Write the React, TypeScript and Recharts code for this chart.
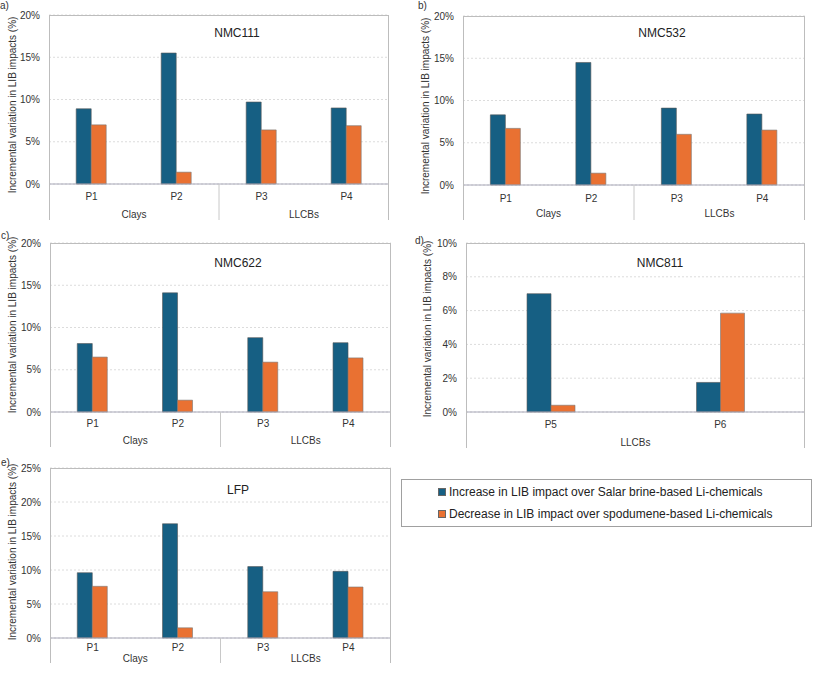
import React from 'react';
import { BarChart, Bar, XAxis, YAxis, CartesianGrid, Legend } from 'recharts';

const FONT = '"Liberation Sans", Arial, sans-serif';
const BLUE = '#165f83';
const ORANGE = '#e97132';

const incName = 'Increase in LIB impact over Salar brine-based Li-chemicals';
const decName = 'Decrease in LIB impact over spodumene-based Li-chemicals';
const seriesOrder = ['inc', 'dec'];

const cats4 = ['P1', 'P2', 'P3', 'P4'];
const groups4 = ['Clays', 'Clays', 'LLCBs', 'LLCBs'];
const cats2 = ['P5', 'P6'];
const groups2 = ['LLCBs', 'LLCBs'];

const ticks20 = [0, 5, 10, 15, 20];
const ticks10 = [0, 2, 4, 6, 8, 10];
const ticks25 = [0, 5, 10, 15, 20, 25];

const nmc111Inc = [8.9, 15.5, 9.7, 9.0];
const nmc111Dec = [7.0, 1.4, 6.4, 6.9];
const nmc532Inc = [8.3, 14.5, 9.1, 8.4];
const nmc532Dec = [6.7, 1.4, 6.0, 6.5];
const nmc622Inc = [8.1, 14.1, 8.8, 8.2];
const nmc622Dec = [6.5, 1.4, 5.9, 6.4];
const nmc811Inc = [7.0, 1.75];
const nmc811Dec = [0.4, 5.85];
const lfpInc = [9.6, 16.8, 10.5, 9.8];
const lfpDec = [7.6, 1.5, 6.8, 7.5];

interface PanelCfg {
  letter: string;
  title: string;
  cats: string[];
  groups: string[];
  inc: number[];
  dec: number[];
  ticks: number[];
  left: number;
  top: number;
  width: number;
  plotLeft: number;
  plotRight: number;
  plotTop: number;
  zeroY: number;
  bottom: number;
  labelDy: number;
  groupDy: number;
  yLabelX: number;
  yLabelY: number;
  titleX: number;
  titleY: number;
  letterX: number;
  letterY: number;
  gap: string;
  legend?: boolean;
}

const panels: PanelCfg[] = [
  {
    letter: 'a)', title: 'NMC111', cats: cats4, groups: groups4, inc: nmc111Inc, dec: nmc111Dec, ticks: ticks20,
    left: 0, top: 0, width: 400, plotLeft: 49, plotRight: 389, plotTop: 15, zeroY: 184, bottom: 220,
    labelDy: 12, groupDy: 30, yLabelX: 12, yLabelY: 105, titleX: 237, titleY: 33, letterX: 0, letterY: 5, gap: '32%',
  },
  {
    letter: 'b)', title: 'NMC532', cats: cats4, groups: groups4, inc: nmc532Inc, dec: nmc532Dec, ticks: ticks20,
    left: 400, top: 0, width: 413, plotLeft: 63, plotRight: 405, plotTop: 16, zeroY: 185, bottom: 220,
    labelDy: 13, groupDy: 28, yLabelX: 25, yLabelY: 106, titleX: 262, titleY: 33, letterX: 18, letterY: 5, gap: '32%',
  },
  {
    letter: 'c)', title: 'NMC622', cats: cats4, groups: groups4, inc: nmc622Inc, dec: nmc622Dec, ticks: ticks20,
    left: 0, top: 220, width: 400, plotLeft: 50, plotRight: 391, plotTop: 23, zeroY: 192, bottom: 227,
    labelDy: 11, groupDy: 28, yLabelX: 12, yLabelY: 105, titleX: 238, titleY: 43, letterX: 1, letterY: 15, gap: '32%',
  },
  {
    letter: 'd)', title: 'NMC811', cats: cats2, groups: groups2, inc: nmc811Inc, dec: nmc811Dec, ticks: ticks10,
    left: 400, top: 220, width: 413, plotLeft: 66, plotRight: 405, plotTop: 23, zeroY: 192, bottom: 228,
    labelDy: 12, groupDy: 30, yLabelX: 27, yLabelY: 109, titleX: 260, titleY: 43, letterX: 15, letterY: 20, gap: '36%',
  },
  {
    letter: 'e)', title: 'LFP', cats: cats4, groups: groups4, inc: lfpInc, dec: lfpDec, ticks: ticks25,
    left: 0, top: 440, width: 813, plotLeft: 50, plotRight: 391, plotTop: 28, zeroY: 198, bottom: 223,
    labelDy: 9, groupDy: 20, yLabelX: 12, yLabelY: 112, titleX: 238, titleY: 50, letterX: 1, letterY: 22, gap: '32%',
    legend: true,
  },
];

function LegendBox({ payload }: any) {
  const items = [...(payload || [])].sort(
    (a: any, b: any) => seriesOrder.indexOf(a.dataKey) - seriesOrder.indexOf(b.dataKey),
  );
  return (
    <div style={{ border: '1px solid #a0a0a0', width: 409, height: 46, position: 'relative', fontFamily: FONT, fontSize: 12, color: '#222' }}>
      {items.map((p: any, i: number) => (
        <div key={i} style={{ position: 'absolute', left: 36, top: 5 + i * 22, display: 'flex', alignItems: 'center', whiteSpace: 'nowrap' }}>
          <span style={{ display: 'inline-block', width: 6, height: 6, background: p.color, border: '0.5px solid #666', marginRight: 3 }} />
          <span>{p.value}</span>
        </div>
      ))}
    </div>
  );
}

function Panel({ cfg }: { cfg: PanelCfg }) {
  const data = cfg.cats.map((c, i) => ({ cat: c, group: cfg.groups[i], inc: cfg.inc[i], dec: cfg.dec[i] }));
  const bw = (cfg.plotRight - cfg.plotLeft) / cfg.cats.length;
  const height = cfg.bottom + 1;

  const CatTick = (props: any) => {
    const { x, index } = props;
    const g = cfg.groups[index];
    const first = index === 0 || cfg.groups[index - 1] !== g;
    let size = 0;
    if (first) {
      for (let k = index; k < cfg.groups.length && cfg.groups[k] === g; k++) size++;
    }
    return (
      <g>
        <text x={x} y={cfg.zeroY + cfg.labelDy} textAnchor="middle" dominantBaseline="central" fontSize={10} fill="#333" fontFamily={FONT}>
          {cfg.cats[index]}
        </text>
        {first && (
          <text x={x + ((size - 1) * bw) / 2} y={cfg.zeroY + cfg.groupDy} textAnchor="middle" dominantBaseline="central" fontSize={10} fill="#333" fontFamily={FONT}>
            {g}
          </text>
        )}
        {first && index > 0 && (
          <line x1={x - bw / 2} x2={x - bw / 2} y1={cfg.zeroY} y2={cfg.bottom} stroke="#c8c8c8" strokeWidth={1} />
        )}
      </g>
    );
  };

  const max = cfg.ticks[cfg.ticks.length - 1];

  return (
    <div style={{ position: 'absolute', left: cfg.left, top: cfg.top, width: cfg.width, height }}>
      <BarChart
        width={cfg.width}
        height={height}
        data={data}
        margin={{ top: cfg.plotTop, right: cfg.width - cfg.plotRight, left: 0, bottom: 1 }}
        barCategoryGap={cfg.gap}
        barGap={0}
      >
        <CartesianGrid vertical={false} stroke="#dcdcdc" strokeDasharray="2 2" />
        <XAxis
          dataKey="cat"
          height={cfg.bottom - cfg.zeroY}
          axisLine={{ stroke: '#a8a8b8' }}
          tickLine={false}
          interval={0}
          tick={<CatTick />}
        />
        <YAxis
          width={cfg.plotLeft}
          domain={[0, max]}
          ticks={cfg.ticks}
          axisLine={false}
          tickLine={false}
          tickSize={0}
          tickMargin={9}
          tickFormatter={(v: number) => `${v}%`}
          tick={{ fontSize: 10, fill: '#333', fontFamily: FONT }}
          label={{
            content: () => (
              <text
                transform={`translate(${cfg.yLabelX},${cfg.yLabelY}) rotate(-90)`}
                textAnchor="middle"
                dominantBaseline="central"
                fontSize={10}
                fill="#333"
                fontFamily={FONT}
              >
                Incremental variation in LIB impacts (%)
              </text>
            ),
          }}
        />
        <Bar dataKey="inc" name={incName} fill={BLUE} stroke="#555" strokeWidth={0.6} isAnimationActive={false} />
        <Bar dataKey="dec" name={decName} fill={ORANGE} stroke="#777" strokeWidth={0.6} isAnimationActive={false} />
        {cfg.legend && (
          <Legend
            layout="vertical"
            align="center"
            verticalAlign="middle"
            content={<LegendBox />}
            wrapperStyle={{ left: 401, top: 39, width: 411, height: 48 }}
          />
        )}
      </BarChart>
      <div
        style={{
          position: 'absolute',
          left: cfg.plotLeft,
          top: cfg.plotTop,
          width: cfg.plotRight - cfg.plotLeft,
          height: cfg.bottom - cfg.plotTop,
          borderTop: '1px solid #bdbdbd',
          borderLeft: '1px solid #bdbdbd',
          borderRight: '1px solid #bdbdbd',
          boxSizing: 'border-box',
          pointerEvents: 'none',
        }}
      />
      <div style={{ position: 'absolute', left: cfg.titleX, top: cfg.titleY, transform: 'translate(-50%,-50%)', fontFamily: FONT, fontSize: 12, color: '#222', whiteSpace: 'nowrap' }}>
        {cfg.title}
      </div>
      <div style={{ position: 'absolute', left: cfg.letterX, top: cfg.letterY, transform: 'translateY(-50%)', fontFamily: FONT, fontSize: 10, color: '#333' }}>
        {cfg.letter}
      </div>
    </div>
  );
}

export default function App() {
  return (
    <div style={{ position: 'absolute', left: 0, top: 0, width: 813, height: 674, background: '#fff', overflow: 'hidden' }}>
      {panels.map((p) => (
        <Panel key={p.letter} cfg={p} />
      ))}
    </div>
  );
}
